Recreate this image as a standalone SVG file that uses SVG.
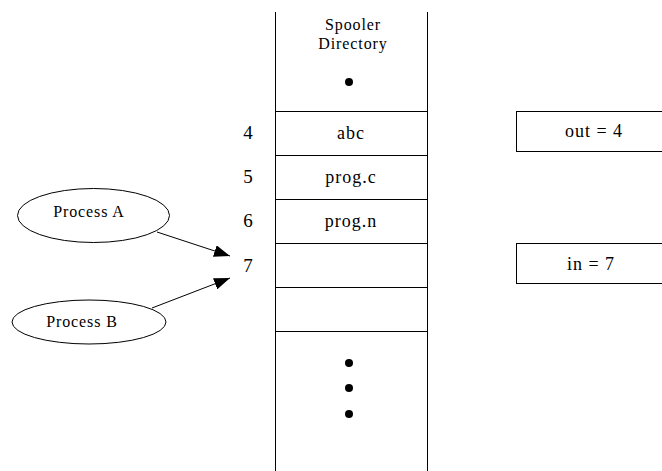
<svg xmlns="http://www.w3.org/2000/svg" width="662" height="471" viewBox="0 0 662 471">
<defs>
<style>
.ln{stroke:#000;stroke-width:1;fill:none}
.sm{font-family:"Liberation Serif",serif;font-size:16px;letter-spacing:0.9px;fill:#000;text-anchor:middle}
.md{font-family:"Liberation Serif",serif;font-size:18px;letter-spacing:1px;fill:#000;text-anchor:middle}
.num{font-family:"Liberation Serif",serif;font-size:19px;fill:#000;text-anchor:middle}
</style>
<marker id="ah" viewBox="0 0 16 12" refX="16" refY="6" markerWidth="16" markerHeight="12" markerUnits="userSpaceOnUse" orient="auto">
<path d="M0,0 L16,6 L0,12 z" fill="#000"/>
</marker>
</defs>
<rect width="662" height="471" fill="#fff"/>
<g id="directory">
<line class="ln" x1="275.5" y1="12" x2="275.5" y2="471"/>
<line class="ln" x1="427.5" y1="12" x2="427.5" y2="471"/>
<line class="ln" x1="275" y1="111.5" x2="428" y2="111.5"/>
<line class="ln" x1="275" y1="155.5" x2="428" y2="155.5"/>
<line class="ln" x1="275" y1="199.5" x2="428" y2="199.5"/>
<line class="ln" x1="275" y1="243.5" x2="428" y2="243.5"/>
<line class="ln" x1="275" y1="287.5" x2="428" y2="287.5"/>
<line class="ln" x1="275" y1="331.5" x2="428" y2="331.5"/>
<text class="sm" x="353" y="30">Spooler</text>
<text class="sm" x="353" y="49">Directory</text>
<circle cx="349" cy="82" r="4" fill="#000"/>
<text class="md" x="351" y="139">abc</text>
<text class="md" x="351" y="183">prog.c</text>
<text class="md" x="351" y="227">prog.n</text>
<circle cx="349" cy="363" r="4" fill="#000"/>
<circle cx="349" cy="388" r="4" fill="#000"/>
<circle cx="349" cy="414" r="4" fill="#000"/>
</g>
<g id="indices">
<text class="num" x="248" y="139">4</text>
<text class="num" x="248" y="183">5</text>
<text class="num" x="248" y="227">6</text>
<text class="num" x="248" y="272">7</text>
</g>
<g id="processA">
<ellipse class="ln" cx="93.5" cy="215.5" rx="76" ry="27"/>
<text class="sm" x="89" y="217">Process A</text>
</g>
<g id="processB">
<ellipse class="ln" cx="89" cy="322" rx="77" ry="22"/>
<text class="sm" x="82" y="327">Process B</text>
</g>
<g id="out">
<rect class="ln" x="516.5" y="111.5" width="160" height="40"/>
<text class="md" x="594" y="137">out = 4</text>
</g>
<g id="in">
<rect class="ln" x="516.5" y="243.5" width="160" height="40"/>
<text class="md" x="591" y="270">in = 7</text>
</g>
<g id="connectors">
<line class="ln" x1="157" y1="232" x2="230" y2="256" marker-end="url(#ah)"/>
<line class="ln" x1="152" y1="308" x2="230" y2="278" marker-end="url(#ah)"/>
</g>
</svg>
